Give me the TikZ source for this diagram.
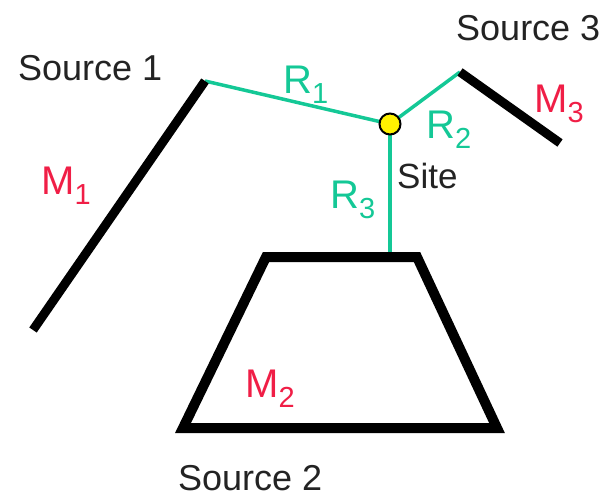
\documentclass[tikz,border=0pt]{standalone}
\usepackage{fontspec}
\setmainfont{Liberation Sans}
\definecolor{rgreen}{RGB}{20,200,150}
\definecolor{mred}{RGB}{240,30,70}
\definecolor{txtgray}{RGB}{35,35,35}
\newcommand\labsub[2]{#1\raisebox{-10pt}{\fontsize{29}{30}\selectfont #2}}
\tikzset{
  ray/.style={draw=rgreen, line width=3.5pt},
  wall/.style={draw=black, line width=9pt},
  trap/.style={draw=black, line width=10pt, line join=miter},
  srclabel/.style={anchor=base west, inner sep=0pt, text=txtgray, font=\fontsize{36}{40}\selectfont},
  rlabel/.style={anchor=base west, inner sep=0pt, text=rgreen, font=\fontsize{40}{44}\selectfont},
  mlabel/.style={anchor=base west, inner sep=0pt, text=mred, font=\fontsize{40}{44}\selectfont},
  sitedot/.style={circle, draw=black, fill=yellow, line width=2pt, minimum size=21pt, inner sep=0pt}
}
\begin{document}
\begin{tikzpicture}[x=1pt,y=-1pt]
\useasboundingbox (0,0) rectangle (610,498);
% coordinates
\coordinate (s1a) at (205,81);
\coordinate (s1b) at (33,330);
\coordinate (s3a) at (460,72);
\coordinate (s3b) at (560,143);
\coordinate (tl) at (266,257);
\coordinate (tr) at (417,257);
\coordinate (br) at (497,428);
\coordinate (bl) at (183,428);
\coordinate (s2top) at (390,257);
\coordinate (sitec) at (390,124);
% rays
\draw[ray] (sitec) -- (s1a);
\draw[ray] (sitec) -- (s3a);
\draw[ray] (sitec) -- (s2top);
% walls
\draw[wall] (s1a) -- (s1b);
\draw[wall] (s3a) -- (s3b);
\draw[trap] (tl) -- (tr) -- (br) -- (bl) -- cycle;
% site
\node[sitedot] (site) at (sitec) {};
% labels
\node[srclabel] (src1) at (18,80) {Source 1};
\node[srclabel] (src3) at (456,40) {Source 3};
\node[srclabel] (src2) at (178,490) {Source 2};
\node[srclabel, font=\fontsize{35}{40}\selectfont] (sitelab) at (397,188) {Site};
\node[rlabel] (r1) at (283,93) {\labsub{R}{1}};
\node[rlabel] (r2) at (426,138) {\labsub{R}{2}};
\node[rlabel] (r3) at (330,208) {\labsub{R}{3}};
\node[mlabel] (m1) at (41,194) {\labsub{M}{1}};
\node[mlabel] (m2) at (245,397) {\labsub{M}{2}};
\node[mlabel] (m3) at (534,112) {\labsub{M}{3}};
\end{tikzpicture}
\end{document}
